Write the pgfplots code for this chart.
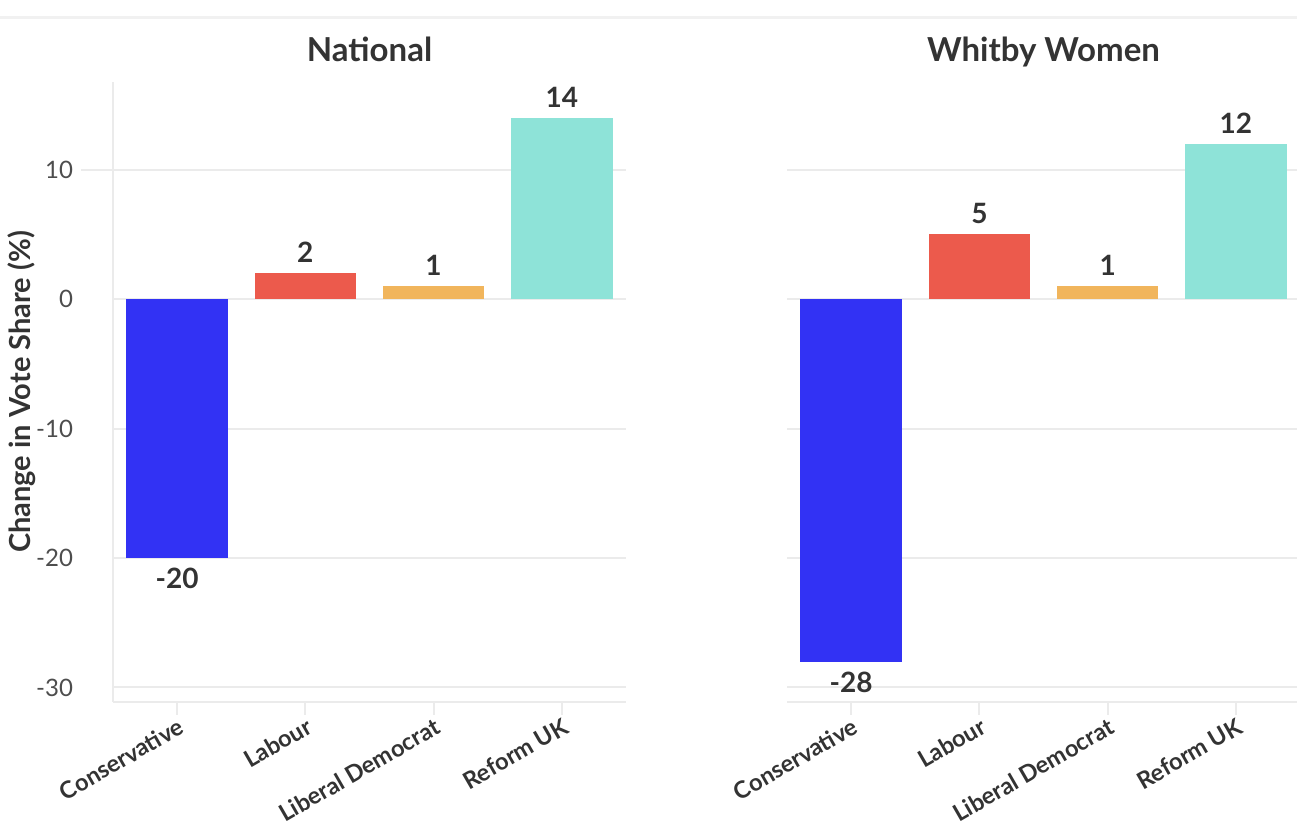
\documentclass[border=0pt]{standalone}
\usepackage{pgfplots}
\pgfplotsset{compat=1.18}
\usepackage{fontspec}
\setmainfont{Lato}
\definecolor{cblue}{HTML}{3232F4}
\definecolor{cred}{HTML}{EC5A4C}
\definecolor{corange}{HTML}{F1B55C}
\definecolor{cteal}{HTML}{8EE3D8}
\definecolor{gridgray}{HTML}{EBEBEB}
\definecolor{txt}{HTML}{333333}
\definecolor{ticktxt}{HTML}{4D4D4D}
\pgfplotsset{
  panel/.style={
    scale only axis, width=256.5pt, height=310pt,
    xmin=-0.5, xmax=3.5, ymin=-31.12, ymax=16.76,
    ybar, bar width=0.79, bar shift=0pt,
    axis x line*=bottom, axis y line*=left,
    axis line style={gridgray, line width=1pt},
    xtick={0,1,2,3},
    xticklabels={Conservative,Labour,Liberal Democrat,Reform UK},
    ytick={-30,-20,-10,0,10},
    tick align=outside, major tick length=6.5pt,
    xtick style={gridgray, line width=1pt},
    ytick style={draw=none},
    ymajorgrids, grid style={gridgray, line width=1pt},
    /pgf/number format/assume math mode=true,
    xticklabel style={rotate=30, anchor=north east, font=\fontsize{11.8}{14}\selectfont\bfseries, text=txt, inner sep=0.5pt},
    yticklabel style={font=\fontsize{12}{14}\selectfont, text=ticktxt},
    title style={anchor=base, yshift=4.5pt, font=\fontsize{16.5}{18}\selectfont\bfseries, text=txt},
    nodes near coords,
    nodes near coords align={vertical},
    every node near coord/.append style={font=\fontsize{14}{16}\selectfont\bfseries, text=txt, inner xsep=0pt, inner ysep=5pt},
    every axis plot/.append style={draw=none},
    clip=false,
  }
}
\begin{document}
\begin{tikzpicture}[x=1pt,y=1pt]
\useasboundingbox (-56.5,-61.5) rectangle (592,351);
\draw[color=gridgray!70, line width=1.5pt] (-56.5,342) -- (592,342);
\begin{axis}[panel, at={(0pt,0pt)}, anchor=south west,
  title={National},
  grid style={gridgray, line width=1pt, shorten <=-16pt},
  yticklabel style={xshift=-10pt},
  ylabel={Change in Vote Share (\%)},
  ylabel style={at={(axis description cs:0,0.5)}, anchor=center, yshift=45.5pt, font=\fontsize{14.5}{17}\selectfont\bfseries, text=txt},
]
\addplot[fill=cblue] coordinates {(0,-20)};
\addplot[fill=cred] coordinates {(1,2)};
\addplot[fill=corange] coordinates {(2,1)};
\addplot[fill=cteal] coordinates {(3,14)};
\end{axis}
\begin{axis}[panel, at={(337pt,0pt)}, anchor=south west,
  title={Whitby Women},
  yticklabels={},
  y axis line style={draw=none},
]
\addplot[fill=cblue] coordinates {(0,-28)};
\addplot[fill=cred] coordinates {(1,5)};
\addplot[fill=corange] coordinates {(2,1)};
\addplot[fill=cteal] coordinates {(3,12)};
\end{axis}
\end{tikzpicture}
\end{document}
